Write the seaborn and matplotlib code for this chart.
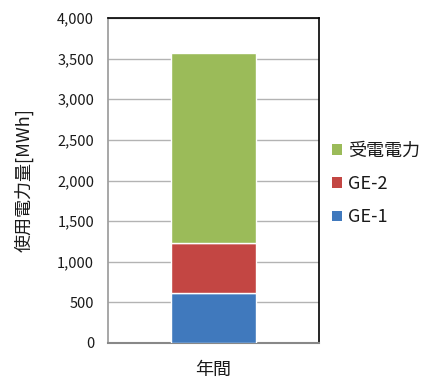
import matplotlib
matplotlib.use("Agg")
import matplotlib.pyplot as plt
import seaborn as sns
import pandas as pd
from matplotlib.ticker import FuncFormatter, FixedLocator
from matplotlib.patches import Patch

sns.set_style("white")
plt.rcParams['font.family'] = ['Noto Sans CJK JP', 'DejaVu Sans']

# Annual electricity usage by source [MWh]
categories = ["年間"]
series_names = ["GE-1", "GE-2", "受電電力"]
ge1 = [620]
ge2 = [615]
grid_power = [2335]
colors = ["#4079BD", "#C34643", "#9BBB59"]

df = pd.DataFrame({"period": categories, "GE-1": ge1, "GE-2": ge2, "受電電力": grid_power})

fig = plt.figure(figsize=(4.27, 3.83), dpi=100)
ax = fig.add_axes([108 / 427, 1 - 343 / 383, (319 - 108) / 427, (343 - 18) / 383])

bottom = pd.Series([0.0] * len(df))
for name, color in zip(series_names, colors):
    sns.barplot(data=df, x="period", y=name, color=color, width=0.40,
                bottom=bottom.values, saturation=1, ax=ax, zorder=3)
    bottom = bottom + df[name]

ax.set_xlim(-0.5, 0.5)
ax.set_ylim(0, 4000)
ax.set_yticks(range(0, 4001, 500))
ax.yaxis.set_major_formatter(FuncFormatter(lambda v, p: f"{int(v):,}"))
ax.yaxis.grid(True, color="#B3B3B3", linewidth=1.0, zorder=0)
ax.set_axisbelow(True)

ax.tick_params(axis="y", labelsize=10.5, length=4, width=1, color="#A0A0A0",
               colors="#A0A0A0", labelcolor="#1a1a1a", pad=6)
ax.xaxis.set_major_locator(FixedLocator([0]))
ax.set_xticklabels(categories)
ax.tick_params(axis="x", which="major", length=0, labelsize=13, pad=13,
               labelcolor="#1a1a1a")
ax.xaxis.set_minor_locator(FixedLocator([-0.5, 0.5]))
ax.tick_params(axis="x", which="minor", length=4, width=1, color="#A0A0A0")
ax.set_xlabel("")
ax.set_ylabel("使用電力量[MWh]", fontsize=13, labelpad=17, color="#1a1a1a")

for side in ["top", "right"]:
    ax.spines[side].set_visible(True)
    ax.spines[side].set_color("black")
    ax.spines[side].set_linewidth(1.2)
ax.spines["left"].set_color("#A0A0A0")
ax.spines["left"].set_linewidth(1.3)
ax.spines["bottom"].set_color("#888888")
ax.spines["bottom"].set_linewidth(1.5)

handles = [Patch(facecolor=c, edgecolor="none", label=n)
           for n, c in zip(series_names, colors)][::-1]
leg = fig.legend(handles=handles, loc="center left",
                 bbox_to_anchor=(328 / 427, 1 - 184 / 383),
                 frameon=False, fontsize=13, handlelength=0.55, handleheight=0.55,
                 handletextpad=0.35, labelspacing=0.85, borderaxespad=0,
                 borderpad=0.2)
for t in leg.get_texts():
    t.set_color("#1a1a1a")

fig.savefig("out.png", dpi=100)
